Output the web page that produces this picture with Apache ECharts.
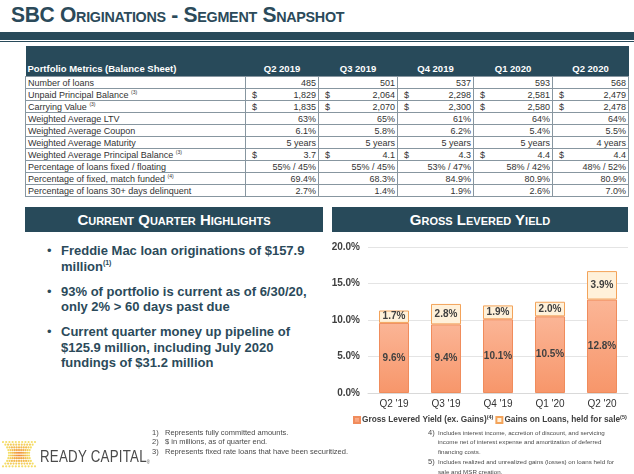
<!DOCTYPE html>
<html>
<head>
<meta charset="utf-8">
<script src="https://cdn.jsdelivr.net/npm/echarts@6/dist/echarts.min.js"></script>
<style>
  html, body { margin: 0; padding: 0; }
  body { width: 634px; height: 474px; position: relative; overflow: hidden; background: #fff; font-family: "Liberation Sans", Arial, sans-serif; }
  .abs { position: absolute; }
  #title { left: 11px; top: 2px; font-size: 22px; font-weight: bold; color: #2b4a5a; font-variant: small-caps; letter-spacing: -0.3px; white-space: nowrap; transform: scaleX(0.955); transform-origin: left top; }
  #band { left: 0; top: 32px; width: 634px; height: 8px; background: #284a5a; }
  #bandLine { left: 0; top: 41px; width: 634px; height: 1px; background: #284a5a; }
  #metrics { left: 25px; top: 46px; border-collapse: collapse; table-layout: fixed; font-size: 9px; color: #333; }
  #metrics th { background: #284a5a; color: #fff; font-weight: bold; font-size: 9.5px; height: 28px; padding: 0 0 2px 0; vertical-align: bottom; text-align: center; white-space: nowrap; }
  #metrics th.lab { text-align: left; padding-left: 2px; }
  #metrics td { border: 1px solid #8796a0; height: 11px; padding: 0 2px; line-height: 10px; white-space: nowrap; }
  #metrics td.num { text-align: right; }
  #metrics td .d { float: left; padding-left: 4px; }
  #metrics sup { font-size: 5px; vertical-align: 4px; line-height: 0; }
  .secHead { height: 25px; background: #284a5a; color: #fff; font-weight: bold; font-size: 15px; font-variant: small-caps; text-align: center; line-height: 26px; }
  #bullets { left: 47px; top: 243px; width: 270px; color: #2b4a5a; font-weight: bold; font-size: 13px; line-height: 15.5px; }
  #bullets .b { position: relative; padding-left: 14px; margin-bottom: 9.5px; }
  #bullets .b:before { content: "\2022"; position: absolute; left: 0; top: 0; font-weight: normal; }
  #bullets sup { font-size: 7px; vertical-align: 6px; line-height: 0; }
  .fn { color: #4a4a4a; line-height: 9.4px; white-space: nowrap; }
  .fn div { position: relative; }
  .fn span.n { position: absolute; }
  #fnLeft { font-size: 7.5px; }
  #fnLeft div { padding-left: 13px; }
  #fnLeft span.n { left: 0; }
  #fnRight { font-size: 6.2px; }
  #fnRight div { padding-left: 10px; }
  #fnRight span.n { left: 0; font-size: 7.5px; }
  #chart { left: 300px; top: 236px; width: 334px; height: 200px; }
  #logoText { left: 40px; top: 448px; font-size: 16px; color: #4a4a4a; letter-spacing: 0.3px; white-space: nowrap; transform: scaleX(0.83); transform-origin: left top; }
</style>
</head>
<body>
<div id="title" class="abs">SBC Originations - Segment Snapshot</div>
<div id="band" class="abs"></div>
<div id="bandLine" class="abs"></div>
<table id="metrics" class="abs"></table>

<div class="abs secHead" style="left:25px;top:207px;width:298px;">Current Quarter Highlights</div>
<div class="abs secHead" style="left:332px;top:207px;width:296px;">Gross Levered Yield</div>

<div id="bullets" class="abs">
  <div class="b">Freddie Mac loan originations of $157.9 million<sup>(1)</sup></div>
  <div class="b">93% of portfolio is current as of 6/30/20, only 2% &gt; 60 days past due</div>
  <div class="b">Current quarter money up pipeline of $125.9 million, including July 2020 fundings of $31.2 million</div>
</div>

<div id="chart" class="abs"></div>

<div id="fnLeft" class="abs fn" style="left:152px;top:428px;">
  <div><span class="n">1)</span>Represents fully committed amounts.</div>
  <div><span class="n">2)</span>$ in millions, as of quarter end.</div>
  <div><span class="n">3)</span>Represents fixed rate loans that have been securitized.</div>
</div>
<div id="fnRight" class="abs fn" style="left:428px;top:428px;">
  <div><span class="n">4)</span>Includes interest income, accretion of discount, and servicing<br>income net of interest expense and amortization of deferred<br>financing costs.</div>
  <div style="margin-top:1px;"><span class="n">5)</span>Includes realized and unrealized gains (losses) on loans held for<br>sale and MSR creation.</div>
</div>

<canvas id="logo" class="abs" width="36" height="30" style="left:2px;top:440px;"></canvas>
<div id="logoText" class="abs">READY CAPITAL<span style="font-size:5px;vertical-align:-2px;">&reg;</span></div>

<script>
// table data
const tableQuarters = ['Q2 2019', 'Q3 2019', 'Q4 2019', 'Q1 2020', 'Q2 2020'];
const rowLabels = [
    'Number of loans',
    'Unpaid Principal Balance',
    'Carrying Value',
    'Weighted Average LTV',
    'Weighted Average Coupon',
    'Weighted Average Maturity',
    'Weighted Average Principal Balance',
    'Percentage of loans fixed / floating',
    'Percentage of fixed, match funded',
    'Percentage of loans 30+ days delinquent'
];
const rowNotes = ['', '(3)', '(3)', '', '', '', '(3)', '', '(4)', ''];
const dollarRows = [1, 2, 6];
const q2019Q2 = ['485', '1,829', '1,835', '63%', '6.1%', '5 years', '3.7', '55% / 45%', '69.4%', '2.7%'];
const q2019Q3 = ['501', '2,064', '2,070', '65%', '5.8%', '5 years', '4.1', '55% / 45%', '68.3%', '1.4%'];
const q2019Q4 = ['537', '2,298', '2,300', '61%', '6.2%', '5 years', '4.3', '53% / 47%', '84.9%', '1.9%'];
const q2020Q1 = ['593', '2,581', '2,580', '64%', '5.4%', '5 years', '4.4', '58% / 42%', '80.9%', '2.6%'];
const q2020Q2 = ['568', '2,479', '2,478', '64%', '5.5%', '4 years', '4.4', '48% / 52%', '80.9%', '7.0%'];
const colWidths = [220, 73, 79, 76, 79, 76];

// chart data
const categories = ["Q2 '19", "Q3 '19", "Q4 '19", "Q1 '20", "Q2 '20"];
const grossYield = [9.6, 9.4, 10.1, 10.5, 12.8];
const gainsOnLoans = [1.7, 2.8, 1.9, 2.0, 3.9];
const seriesNames = ['Gross Levered Yield (ex. Gains)', 'Gains on Loans, held for sale'];
const seriesNotes = ['(4)', '(5)'];

window.onload = function() {
    renderTable();
    renderLogo();
    renderChart();
};

function renderTable() {
    const table = document.getElementById('metrics');
    const cols = [q2019Q2, q2019Q3, q2019Q4, q2020Q1, q2020Q2];
    let html = '<colgroup>' + colWidths.map(w => `<col style="width:${w}px">`).join('') + '</colgroup>';
    html += '<tr><th class="lab">Portfolio Metrics (Balance Sheet)</th>' +
        tableQuarters.map(q => `<th>${q}</th>`).join('') + '</tr>';
    rowLabels.forEach((label, i) => {
        const note = rowNotes[i] ? ` <sup>${rowNotes[i]}</sup>` : '';
        html += `<tr><td>${label}${note}</td>`;
        cols.forEach(col => {
            const dollar = dollarRows.includes(i) ? '<span class="d">$</span>' : '';
            html += `<td class="num">${dollar}${col[i]}</td>`;
        });
        html += '</tr>';
    });
    table.innerHTML = html;
}

// dotted logo mark
function renderLogo() {
    const ctx = document.getElementById('logo').getContext('2d');
    const rows = 10, cols = 11;
    for (let r = 0; r < rows; r++) {
        const t = Math.abs(r - (rows - 1) / 2) / ((rows - 1) / 2);
        const half = 10 + 6 * t * t;
        for (let c = 0; c < cols; c++) {
            const u = (c - (cols - 1) / 2) / ((cols - 1) / 2);
            const x = 17 + u * half;
            const y = 2 + r * 2.7;
            const edge = Math.max(Math.abs(u), t);
            const g = Math.round(130 + 80 * edge);
            ctx.fillStyle = `rgba(240,${g},50,${1 - 0.25 * edge})`;
            ctx.beginPath();
            ctx.arc(x, y, 1.1, 0, Math.PI * 2);
            ctx.fill();
        }
    }
}

function renderChart() {
    const chart = echarts.init(document.getElementById('chart'));
    const labelStyle = {
        show: true,
        position: 'inside',
        color: '#404040',
        fontWeight: 'bold',
        fontSize: 10,
        fontFamily: 'Liberation Sans',
        formatter: p => p.value.toFixed(1) + '%'
    };
    const option = {
        animation: false,
        grid: { left: 68, right: 6, top: 11, bottom: 43 },
        legend: {
            top: 173,
            left: 48,
            width: 290,
            itemWidth: 6,
            itemHeight: 6,
            itemGap: 2,
            icon: 'rect',
            data: seriesNames,
            formatter: name => name + '{sup|' + seriesNotes[seriesNames.indexOf(name)] + '}',
            textStyle: {
                color: '#404040',
                fontWeight: 'bold',
                fontSize: 8.3,
                fontFamily: 'Liberation Sans',
                padding: [0, 0, 0, -3],
                rich: {
                    sup: { fontSize: 5.5, color: '#404040', padding: [0, 0, 6, 0] }
                }
            }
        },
        xAxis: {
            type: 'category',
            data: categories,
            axisTick: { show: false },
            axisLine: { lineStyle: { color: '#d9d9d9' } },
            axisLabel: { color: '#333', fontSize: 10, fontFamily: 'Liberation Sans', margin: 6 }
        },
        yAxis: {
            type: 'value',
            min: 0,
            max: 20,
            interval: 5,
            axisLine: { show: false },
            axisTick: { show: false },
            splitLine: { lineStyle: { color: '#e4e4e4' } },
            axisLabel: {
                color: '#404040',
                fontSize: 10,
                fontWeight: 'bold',
                fontFamily: 'Liberation Sans',
                margin: 8,
                formatter: v => v.toFixed(1) + '%'
            }
        },
        series: [
            {
                name: seriesNames[0],
                type: 'bar',
                stack: 'yield',
                data: grossYield,
                barWidth: 30,
                itemStyle: {
                    color: new echarts.graphic.LinearGradient(0, 0, 0, 1, [
                        { offset: 0, color: '#fbb596' },
                        { offset: 1, color: '#f7966a' }
                    ]),
                    borderColor: '#f08c5c',
                    borderWidth: 1
                },
                label: labelStyle
            },
            {
                name: seriesNames[1],
                type: 'bar',
                stack: 'yield',
                data: gainsOnLoans,
                barWidth: 30,
                itemStyle: {
                    color: '#fff1da',
                    borderColor: '#f3a35a',
                    borderWidth: 1
                },
                label: labelStyle
            }
        ]
    };
    chart.setOption(option);
}
</script>
</body>
</html>
